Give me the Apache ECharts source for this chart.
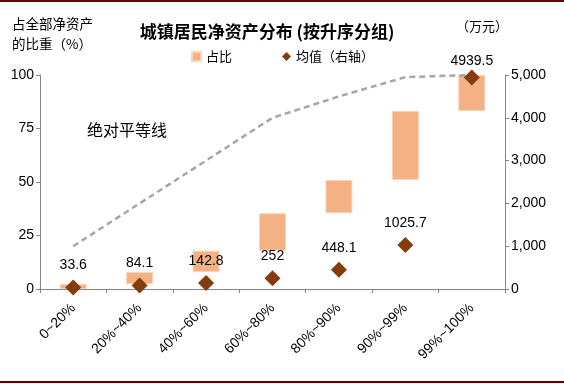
<!DOCTYPE html>
<html>
<head>
<meta charset="utf-8">
<script src="https://cdn.jsdelivr.net/npm/echarts@6/dist/echarts.min.js"></script>
<style>
html,body{margin:0;padding:0;background:#fff;}
#c{width:564px;height:384px;}
</style>
</head>
<body>
<div id="c"></div>
<script>
var categories = ['0~20%', '20%~40%', '40%~60%', '60%~80%', '80%~90%', '90%~99%', '99%~100%'];
var shareStart = [0, 2.3, 7.9, 17.9, 35.4, 50.9, 83.2];
var shareValue = [2.3, 5.6, 10.0, 17.5, 15.5, 32.3, 16.8];
var meanValue = [33.6, 84.1, 142.8, 252, 448.1, 1025.7, 4939.5];
var equalityLine = [20, 40, 60, 80, 90, 99, 100];
var leftTicks = [0, 25, 50, 75, 100];
var rightTicks = [0, 1000, 2000, 3000, 4000, 5000];

var FONT = '"Liberation Sans", Arial, "Noto Sans CJK SC", sans-serif';
var CJK = '"Noto Sans CJK SC", sans-serif';
var chart = echarts.init(document.getElementById('c'));

var meanData = meanValue.map(function (v, i) {
  if (i === meanValue.length - 1) {
    return { value: v, label: { distance: 1 } };
  }
  return v;
});

chart.setOption({
  animation: false,
  backgroundColor: '#fff',
  textStyle: { fontFamily: FONT },
  title: {
    text: '城镇居民净资产分布 (按升序分组)',
    left: 262, top: 18, textAlign: 'center',
    textStyle: { fontSize: 17, fontWeight: 'bold', color: '#000', fontFamily: CJK }
  },
  legend: {
    left: 186, top: 45,
    itemWidth: 9, itemHeight: 9, itemGap: 50,
    textStyle: { fontSize: 13, color: '#000', fontFamily: CJK },
    data: [
      { name: '占比', icon: 'rect' },
      { name: '均值（右轴）', icon: 'diamond' }
    ]
  },
  grid: { left: 40, right: 59, top: 75, bottom: 95 },
  xAxis: {
    type: 'category',
    data: categories,
    axisLine: { lineStyle: { color: '#868686', width: 1 } },
    axisTick: { show: true, length: 4, lineStyle: { color: '#868686' } },
    axisLabel: { rotate: 45, fontSize: 14, color: '#000', margin: 17, interval: 0, fontFamily: FONT }
  },
  yAxis: [
    {
      type: 'value', min: 0, max: 100, interval: 25,
      name: '占全部净资产\n的比重（%）',
      nameLocation: 'end',
      nameGap: 21,
      nameTextStyle: { fontSize: 13.5, color: '#000', align: 'left', lineHeight: 20, padding: [0, 0, 0, -28], fontFamily: CJK },
      axisLine: { show: true, lineStyle: { color: '#868686' } },
      axisTick: { show: true, length: 4, lineStyle: { color: '#868686' } },
      splitLine: { show: false },
      axisLabel: { fontSize: 14, color: '#000', margin: 6, fontFamily: FONT }
    },
    {
      type: 'value', min: 0, max: 5000, interval: 1000,
      name: '（万元）',
      nameLocation: 'end',
      nameGap: 42,
      nameTextStyle: { fontSize: 13, color: '#000', align: 'right', padding: [0, -3, 0, 0], fontFamily: CJK },
      axisLine: { show: true, lineStyle: { color: '#868686' } },
      axisTick: { show: true, length: 4, lineStyle: { color: '#868686' } },
      splitLine: { show: false },
      axisLabel: {
        fontSize: 14, color: '#000', margin: 6, fontFamily: FONT,
        formatter: function (v) { return echarts.format.addCommas(v); }
      }
    }
  ],
  graphic: [
    { type: 'rect', left: 0, top: 0, shape: { width: 564, height: 2 }, style: { fill: '#6B0000' }, z: 100 },
    { type: 'rect', left: 0, top: 381, shape: { width: 564, height: 2 }, style: { fill: '#6B0000' }, z: 100 },
    {
      type: 'text', left: 87, top: 122,
      style: { text: '绝对平等线', fill: '#000', font: '16px "Noto Sans CJK SC", sans-serif' }
    }
  ],
  series: [
    {
      name: 'base', type: 'bar', stack: 's', data: shareStart, barWidth: 27,
      itemStyle: { color: 'transparent' }, silent: true, tooltip: { show: false }
    },
    {
      name: '占比', type: 'bar', stack: 's', data: shareValue, barWidth: 27,
      itemStyle: { color: '#F4B183', borderColor: '#FAD3B8', borderWidth: 1 }
    },
    {
      name: '绝对平等线', type: 'line', data: equalityLine, symbol: 'none',
      lineStyle: { color: '#A6A6A6', width: 2.5, type: [6, 4] }, z: 3
    },
    {
      name: '均值（右轴）', type: 'scatter', yAxisIndex: 1, data: meanData,
      symbol: 'diamond', symbolSize: [16, 16],
      itemStyle: { color: '#843C0C', opacity: 1 },
      label: { show: true, position: 'top', distance: 7, fontSize: 14, color: '#000', fontFamily: FONT },
      z: 5
    }
  ]
});
</script>
</body>
</html>
